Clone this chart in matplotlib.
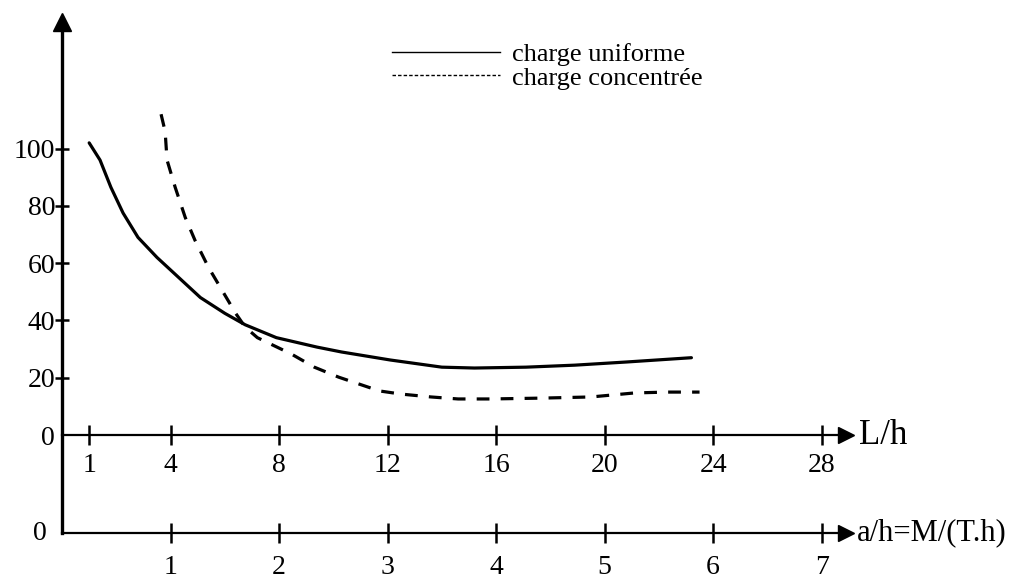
import matplotlib.pyplot as plt
from matplotlib.lines import Line2D

# values (L/h on x, ratio on y)
uniforme_x = [1.0, 1.4, 1.8, 2.25, 2.8, 3.5, 4.3, 5.1, 6.0, 6.75, 7.9, 9.4, 10.3,
              12.1, 14.0, 15.2, 17.1, 18.9, 20.8, 23.2]
uniforme_y = [102, 96, 86.5, 77.5, 69, 62, 55, 48, 42.5, 38.5, 34, 30.7, 29,
              26.2, 23.7, 23.4, 23.7, 24.4, 25.5, 27]

concentree_x = [3.65, 3.8, 3.87, 4.17, 4.54, 4.9, 5.4, 5.9, 6.4, 6.75, 7.2, 8.45,
                9.3, 10.2, 11.7, 12.5, 13.6, 14.6, 15.8, 17.7, 19.5, 21.1, 22.3, 23.5]
concentree_y = [112, 106, 96, 86.5, 76, 68, 58.5, 50.5, 42.5, 37.7, 34, 28.3,
                23.7, 20.2, 15.4, 14.3, 13.3, 12.6, 12.6, 12.9, 13.3, 14.7, 15, 15]

lh_ticks = [1, 4, 8, 12, 16, 20, 24, 28]
ah_ticks = [1, 2, 3, 4, 5, 6, 7]
y_ticks = [0, 20, 40, 60, 80, 100]

plt.rcParams['font.family'] = 'Liberation Serif'

fig = plt.figure(figsize=(10.29, 5.86), dpi=100)
ax = fig.add_axes([0.0603, 0.0904, 0.7619, 0.8721])

ax.plot(uniforme_x, uniforme_y, color='black', lw=2.3, solid_capstyle='round')
ax.plot(concentree_x, concentree_y, color='black', lw=2.3, dashes=(4, 3.5))

ax.set_xlim(0, 28.9)
ax.set_ylim(-34.2, 144.2)

# axes drawn like the hand-made figure
ax.spines['top'].set_visible(False)
ax.spines['right'].set_visible(False)
ax.spines['bottom'].set_position(('data', 0))
ax.spines['bottom'].set_linewidth(1.6)
ax.spines['left'].set_linewidth(2.4)

ax.set_xticks(lh_ticks)
ax.set_xticklabels([str(t) for t in lh_ticks])
ax.tick_params(axis='x', direction='inout', length=14, width=1.8, pad=6, labelsize=20)
ax.set_yticks(y_ticks)
ax.set_yticklabels([str(t) for t in y_ticks])
ax.tick_params(axis='y', direction='inout', length=10, width=1.8, pad=0, labelsize=20)
ax.yaxis.get_major_ticks()[0].tick1line.set_visible(False)

# second scale: a/h = L/(4h)
sec = ax.secondary_xaxis(0, functions=(lambda x: x / 4, lambda x: x * 4))
sec.spines['bottom'].set_linewidth(1.6)
sec.set_xticks(ah_ticks)
sec.set_xticklabels([str(t) for t in ah_ticks])
sec.tick_params(axis='x', direction='inout', length=14, width=1.8, pad=9, labelsize=20)

# arrow heads
ax.plot(1, 0, '>k', ms=12, transform=ax.get_yaxis_transform(), clip_on=False)
ax.plot(1, 0, '>k', ms=11, transform=ax.transAxes, clip_on=False)
ax.plot(0, 1, '^k', ms=13, transform=ax.transAxes, clip_on=False)

ax.text(1.016, 0, 'L/h', transform=ax.get_yaxis_transform(), fontsize=25,
        va='center', ha='left')
ax.text(1.014, 0.0, 'a/h=M/(T.h)', transform=ax.transAxes, fontsize=22,
        va='center', ha='left')
ax.text(-0.02, 0.0, '0', transform=ax.transAxes, fontsize=20,
        va='center', ha='right')

handles = [Line2D([], [], color='black', lw=1.0),
           Line2D([], [], color='black', lw=1.0, dashes=(2.5, 1.5))]
ax.legend(handles, ['charge uniforme', 'charge concentrée'],
          loc='upper left', bbox_to_anchor=(0.407, 0.98), frameon=False,
          fontsize=19, handlelength=4.1, handletextpad=0.45, labelspacing=0.0,
          borderaxespad=0)

fig.savefig('out.png', dpi=100)
